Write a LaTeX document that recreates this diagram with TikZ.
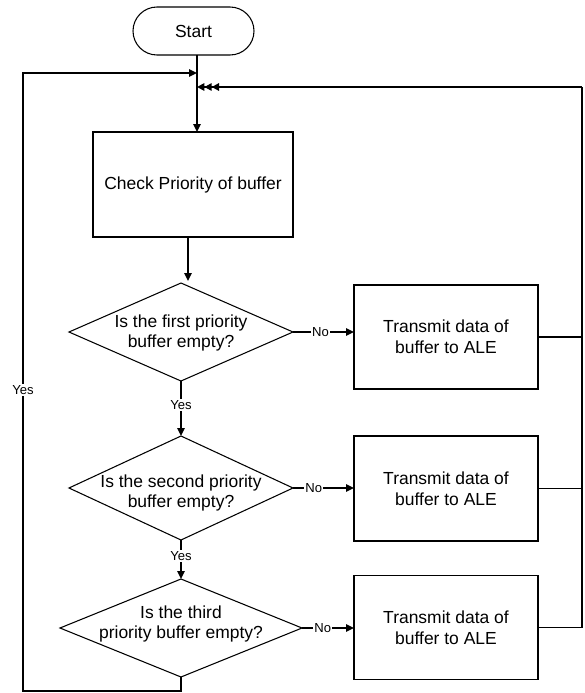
\documentclass[tikz,border=0pt]{standalone}
\usepackage{fontspec}
\setmainfont{Liberation Sans}
\usetikzlibrary{shapes.geometric,arrows.meta,calc}
\begin{document}
\begin{tikzpicture}[x=0.75pt,y=-0.75pt,
  shapeline/.style={draw=black,line width=0.8pt},
  txt/.style={font=\fontsize{13.1}{15.5}\selectfont,align=center,inner sep=0pt},
  terminal/.style={shapeline,rounded corners=18pt,minimum width=90.75pt,minimum height=36pt,inner sep=0pt,outer sep=0pt},
  procbox/.style={shapeline,minimum width=138pt,minimum height=78pt,inner sep=0pt,outer sep=0pt},
  decision/.style={shapeline,diamond,inner sep=0pt,outer sep=0pt},
  flow/.style={line width=1.5pt,-{Triangle[length=6pt,width=5.5pt]}},
  ret/.style={line width=0.8pt},
  tag/.style={fill=white,inner sep=1pt,font=\fontsize{9.8}{11}\selectfont},
  tiptriple/.style={line width=1.5pt,-{Triangle[length=5.5pt,width=5.5pt]Triangle[length=5.5pt,width=5.5pt]Triangle[length=5.5pt,width=5.5pt]}},
]
\useasboundingbox (0,0) rectangle (585,693);

% terminal and process step
\node[terminal,txt] (start) at (193.5,31) {Start};
\node[procbox,txt,minimum width=150pt,minimum height=78.75pt] (check) at (193,184.5) {Check Priority of buffer};

% decisions (outline + text)
\node[decision,minimum width=168pt,minimum height=73.5pt] (d1) at (181,332) {};
\node[txt] (d1t) at (181,333) {Is the first priority\\buffer empty?};
\node[decision,minimum width=168pt,minimum height=78pt] (d2) at (181,488) {};
\node[txt] (d2t) at (181,493) {Is the second priority\\buffer empty?};
\node[decision,minimum width=181.5pt,minimum height=73.5pt] (d3) at (181,628) {};
\node[txt] (d3t) at (181,624) {Is the third\\priority buffer empty?};

% transmit boxes
\node[procbox,txt] (b1) at (446,337) {Transmit data of\\buffer to ALE};
\node[procbox,txt,minimum height=78.75pt] (b2) at (446,488.5) {Transmit data of\\buffer to ALE};
\node[procbox,txt] (b3) at (446,627.5) {Transmit data of\\buffer to ALE};

% helper coordinates
\coordinate (trunk) at (197,0);
\coordinate (cx) at (188,0);
\coordinate (rx) at (582,87);
\coordinate (lx) at (23,73);

% main downward flow
\draw[flow] (start.south -| trunk) -- (check.north -| trunk);
\draw[flow] (check.south -| cx) -- ++(0,44);
\draw[flow] (d1.south) -- node[tag,pos=0.44]{Yes} (d2.north);
\draw[flow] (d2.south) -- node[tag,pos=0.42]{Yes} (d3.north);

% "No" branches
\draw[flow] (d1.east) -- node[tag,pos=0.45]{No} (d1.east -| b1.west);
\draw[flow] (d2.east) -- node[tag,pos=0.34]{No} (d2.east -| b2.west);
\draw[flow] (d3.east) -- node[tag,pos=0.4]{No} (d3.east -| b3.west);

% return from transmit boxes
\draw[ret] (b1.east) -- (b1.east -| rx);
\draw[ret] (b2.east) -- (b2.east -| rx);
\draw[ret] (b3.east) -- (b3.east -| rx) -- (rx);
\draw[tiptriple] (rx) -- (rx -| trunk);

% all buffers empty: loop back
\draw[flow] (d3.south) -- ++(0,14) coordinate (lb) -- (lb -| lx)
  -- node[tag,pos=0.487]{Yes} (lx) -- (lx -| trunk);
\end{tikzpicture}
\end{document}
